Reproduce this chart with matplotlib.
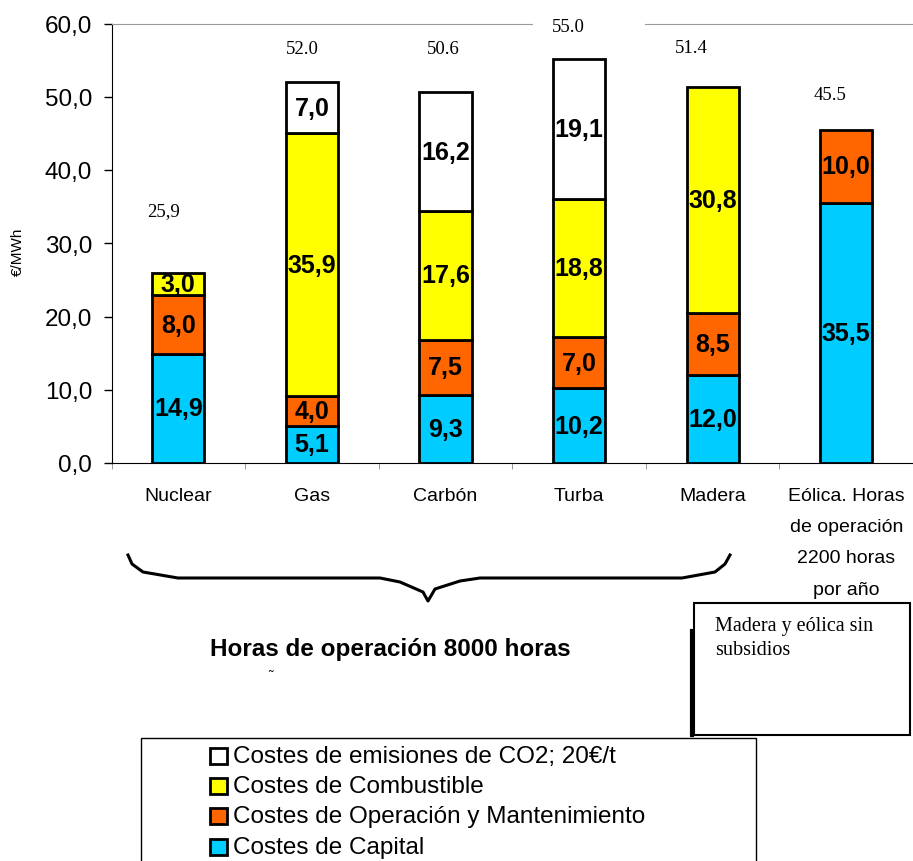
import numpy as np
import matplotlib
matplotlib.use('Agg')
import matplotlib.pyplot as plt
from matplotlib.patches import Rectangle
from matplotlib.lines import Line2D

# data
categories = ['Nuclear', 'Gas', 'Carbón', 'Turba', 'Madera',
              'Eólica. Horas\nde operación\n2200 horas\npor año']
capital = [14.9, 5.1, 9.3, 10.2, 12.0, 35.5]
operacion = [8.0, 4.0, 7.5, 7.0, 8.5, 10.0]
combustible = [3.0, 35.9, 17.6, 18.8, 30.8, 0.0]
co2 = [0.0, 7.0, 16.2, 19.1, 0.0, 0.0]
total_labels = ['25,9', '52.0', '50.6', '55.0', '51.4', '45.5']
yticks = [0, 10, 20, 30, 40, 50, 60]

series_names = ['Costes de Capital', 'Costes de Operación y Mantenimiento',
                'Costes de Combustible', 'Costes de emisiones de CO2; 20€/t']
series_colors = ['#00CCFF', '#FF6600', '#FFFF00', '#FFFFFF']

# label layout (offset from category centre, height in data units)
total_dx = [-0.11, -0.07, -0.02, -0.08, -0.16, -0.12]
total_y = [34.4, 56.6, 56.6, 59.6, 56.7, 50.3]

W, H = 913, 862
fig = plt.figure(figsize=(W / 100, H / 100), dpi=100)
sans = ['Liberation Sans', 'DejaVu Sans']
serif = ['Liberation Serif', 'DejaVu Serif']


def P(x, y):
    return x / W, 1 - y / H


ax = fig.add_axes([111.5 / W, 1 - 464 / H, (W - 111.5) / W, (464 - 24.5) / H])

x = np.arange(len(categories))
series = [capital, operacion, combustible, co2]
bottom = np.zeros(len(categories))
for vals, color in zip(series, series_colors):
    vals = np.array(vals)
    for i in range(len(categories)):
        if vals[i] > 0:
            ax.bar(x[i], vals[i], 0.39, bottom=bottom[i], color=color,
                   edgecolor='black', linewidth=2.0, zorder=3)
            ax.text(x[i], bottom[i] + vals[i] / 2, f'{vals[i]:.1f}'.replace('.', ','),
                    ha='center', va='center', fontsize=18, fontweight='bold',
                    family=sans, zorder=5)
    bottom = bottom + vals

for i, lab in enumerate(total_labels):
    ax.text(x[i] + total_dx[i], total_y[i], lab, ha='center', va='center',
            fontsize=13.5, family=serif, zorder=6)

# white text box hiding the top line behind 55.0
ax.add_patch(Rectangle((2.657, 57.9), 0.836, 3.8, facecolor='white',
                       edgecolor='none', clip_on=False, zorder=4))

ax.set_xlim(-0.5, 5.48)
ax.set_ylim(0, 60)
ax.set_yticks(yticks)
ax.set_yticklabels([f'{v:.1f}'.replace('.', ',') for v in yticks],
                   fontsize=17.5, family=sans)
ax.set_xticks(x)
ax.set_xticklabels(categories, fontsize=14, family=sans, linespacing=2.1,
                   va='top')
ax.set_xticks(np.arange(-0.5, 6, 1), minor=True)
ax.tick_params(axis='x', which='major', length=0, pad=17)
ax.tick_params(axis='x', which='minor', length=4, color='#888888')
ax.tick_params(axis='y', length=6, width=1, pad=8)
ax.spines['right'].set_visible(False)
ax.spines['top'].set_color('#999999')
ax.spines['left'].set_color('black')
ax.spines['bottom'].set_color('black')

fig.text(*P(18, 252), '€/MWh', rotation=90, ha='center', va='center',
         fontsize=11, family=sans)

# brace under the first five categories
bx = [128, 132, 143, 178, 380, 400, 423, 428, 435, 460, 480, 682, 715, 725, 730]
by = [556, 565, 573, 579, 579, 583, 593, 602, 590, 582, 579, 579, 573, 565, 556]
fig.add_artist(Line2D([v / W for v in bx], [1 - v / H for v in by],
                      transform=fig.transFigure, color='black', linewidth=2.2))

fig.text(*P(390, 650), 'Horas de operación 8000 horas', ha='center', va='center',
         fontsize=17.5, fontweight='bold', family=sans)
fig.text(*P(270, 677), '˜', ha='center', va='center', fontsize=10, family=sans)

# note box
fig.add_artist(Rectangle(P(694, 736), (910 - 694) / W, (736 - 604) / H,
                         transform=fig.transFigure, facecolor='white',
                         edgecolor='black', linewidth=1.5))
fig.add_artist(Line2D([692 / W, 692 / W], [1 - 632 / H, 1 - 736 / H],
                      transform=fig.transFigure, color='black', linewidth=3))
fig.text(*P(715, 617), 'Madera y eólica sin\nsubsidios', ha='left', va='top',
         fontsize=14.5, family=serif, linespacing=1.35)

# legend box
fig.add_artist(Rectangle(P(141, 880), (756 - 141) / W, (880 - 739) / H,
                         transform=fig.transFigure, facecolor='white',
                         edgecolor='black', linewidth=1))
row_y = [757, 787, 817, 848]
for ry, name, color in zip(row_y, series_names[::-1], series_colors[::-1]):
    fig.add_artist(Rectangle(P(210, ry + 8), 17 / W, 16 / H,
                             transform=fig.transFigure, facecolor=color,
                             edgecolor='black', linewidth=2))
    fig.text(*P(233, ry), name, ha='left', va='center', fontsize=17.5, family=sans)

fig.savefig('out.png', dpi=100)
